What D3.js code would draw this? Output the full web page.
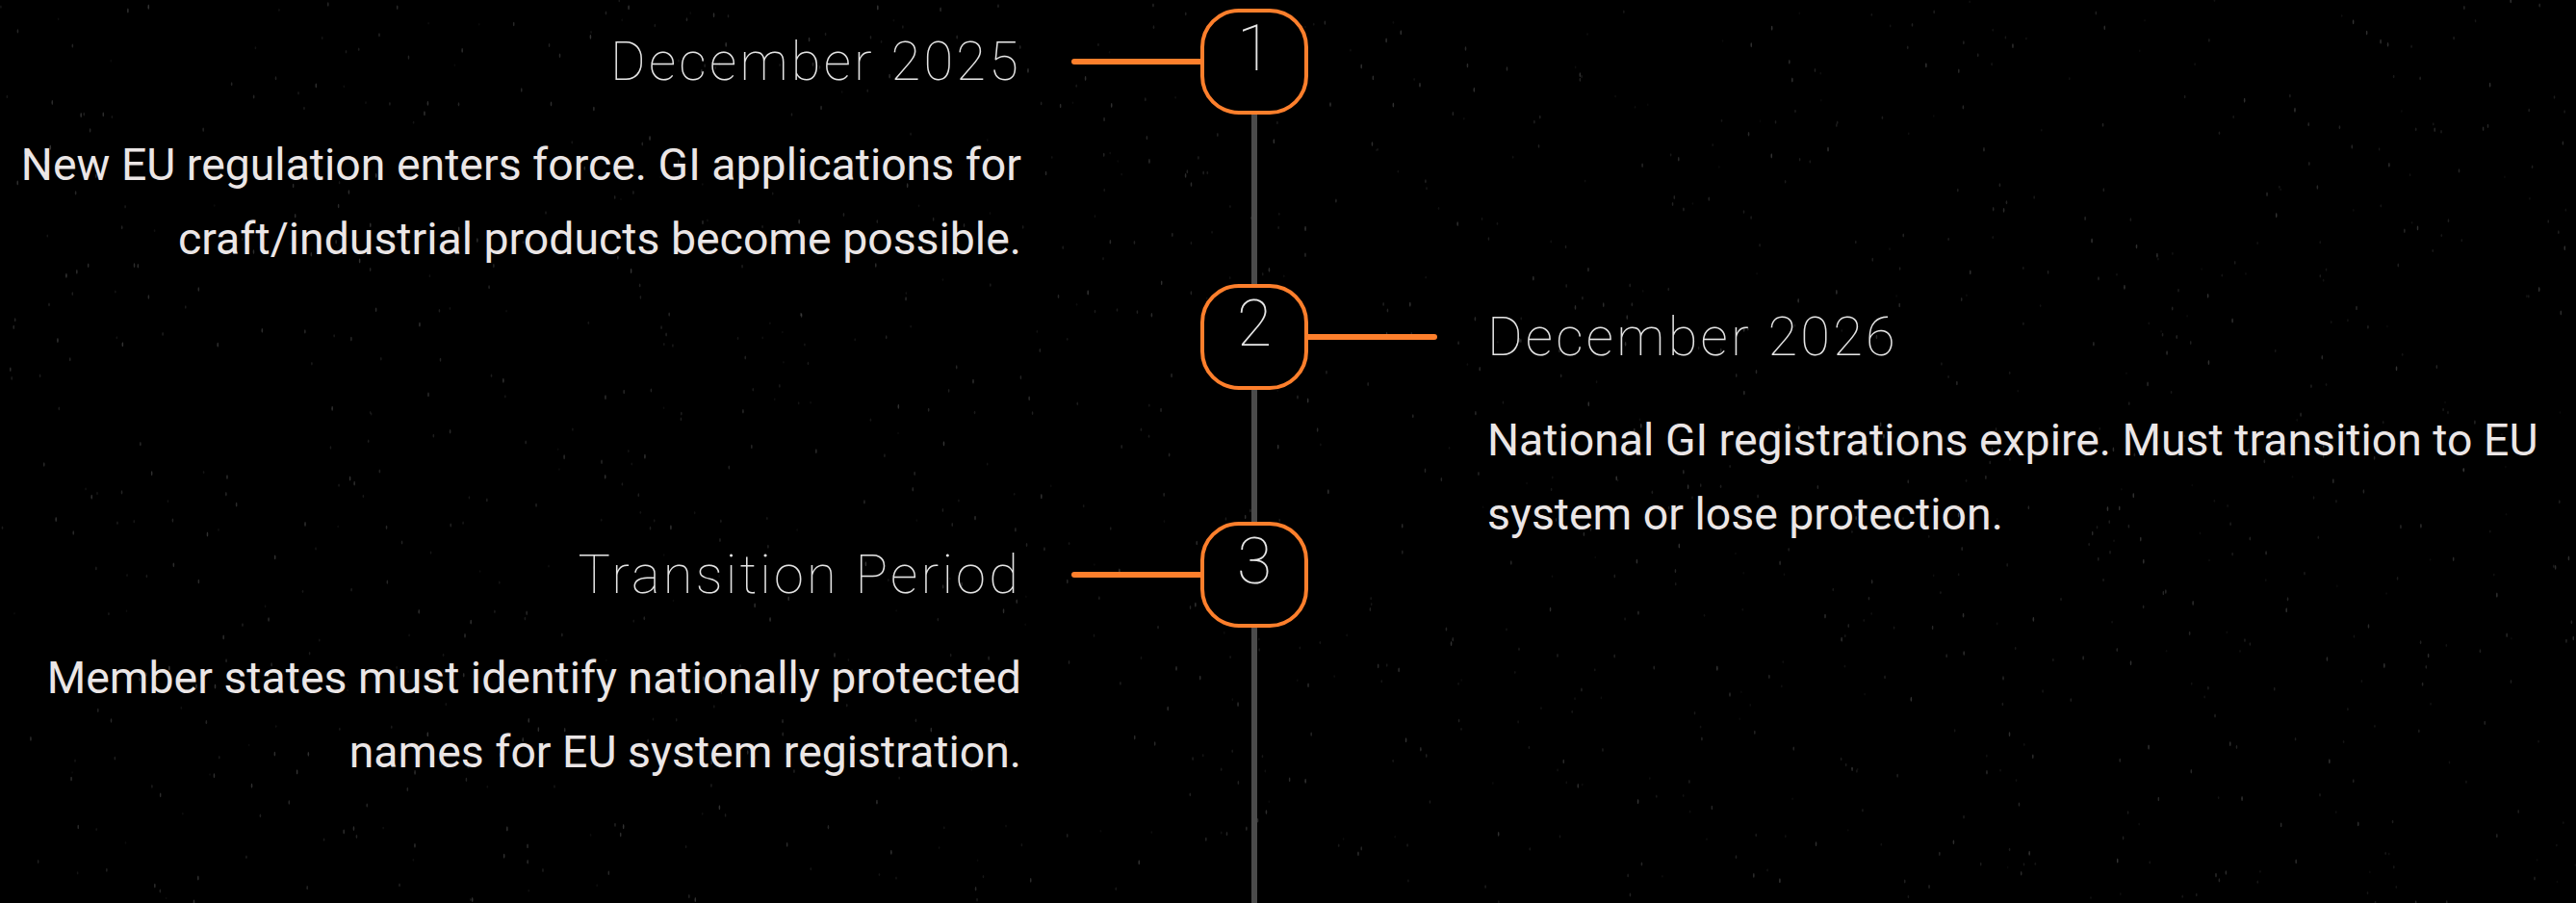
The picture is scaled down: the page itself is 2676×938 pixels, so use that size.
<!DOCTYPE html>
<html lang="en">
<head>
    <meta charset="UTF-8">
    <title>GI Timeline</title>
    <script src="https://d3js.org/d3.v7.min.js"></script>
    <style>
        html, body { margin: 0; padding: 0; background: #000; overflow: hidden; }
    </style>
</head>
<body>
    <svg id="chart" width="2676" height="938"></svg>

    <script>
        // timeline data
        const steps = [1, 2, 3];
        const titles = ['December 2025', 'December 2026', 'Transition Period'];
        const sides = ['left', 'right', 'left'];
        const descriptions = [
            ['New EU regulation enters force. GI applications for', 'craft/industrial products become possible.'],
            ['National GI registrations expire. Must transition to EU', 'system or lose protection.'],
            ['Member states must identify nationally protected', 'names for EU system registration.']
        ];

        const width = 2676, height = 938;
        const axisX = 1303;
        const boxW = 108, boxH = 106;
        const connector = 133;   // length of the orange stub
        const textGap = 55;      // stub end -> text
        const lineH = 77;

        // row layout (first row centre, then gaps between rows)
        const rowCentres = d3.cumsum([64, 286, 247]);
        const y = d3.scaleOrdinal().domain(steps).range(rowCentres);

        const items = steps.map((s, i) => ({
            step: s, title: titles[i], side: sides[i], lines: descriptions[i]
        }));

        const svg = d3.select('#chart');

        svg.append('rect')
            .attr('width', width)
            .attr('height', height)
            .attr('fill', '#000');

        // faint speckle texture on the backdrop (seeded, purely decorative)
        const rnd = d3.randomLcg(7);
        const specks = d3.range(1400).map(() => [rnd() * width, rnd() * height, rnd()]);
        svg.append('g')
            .selectAll('ellipse')
            .data(specks)
            .join('ellipse')
            .attr('cx', d => d[0])
            .attr('cy', d => d[1])
            .attr('rx', 0.8)
            .attr('ry', d => 1.2 + d[2] * 1.4)
            .attr('fill', '#fff')
            .attr('fill-opacity', d => 0.04 + d[2] * 0.16);

        // spine
        svg.append('line')
            .attr('x1', axisX).attr('x2', axisX)
            .attr('y1', y(steps[0]))
            .attr('y2', height)
            .attr('stroke', '#4b4b4b')
            .attr('stroke-width', 6);

        const item = svg.selectAll('g.item')
            .data(items)
            .join('g')
            .attr('class', 'item')
            .attr('transform', d => `translate(0,${y(d.step)})`);

        const dir = d => d.side === 'left' ? -1 : 1;

        item.append('line')
            .attr('x1', d => axisX + dir(d) * (boxW / 2 + 2))
            .attr('x2', d => axisX + dir(d) * (boxW / 2 + connector))
            .attr('y1', 0).attr('y2', 0)
            .attr('stroke', '#fd7f2c')
            .attr('stroke-width', 6)
            .attr('stroke-linecap', 'round');

        item.append('rect')
            .attr('x', axisX - boxW / 2)
            .attr('y', -boxH / 2)
            .attr('width', boxW)
            .attr('height', boxH)
            .attr('rx', 38)
            .attr('fill', '#000')
            .attr('stroke', '#fd7f2c')
            .attr('stroke-width', 4);

        item.append('text')
            .attr('x', axisX)
            .attr('y', 9)
            .attr('text-anchor', 'middle')
            .attr('font-family', 'Roboto, sans-serif')
            .attr('font-weight', 100)
            .attr('font-size', 66)
            .attr('fill', '#e6e6e6')
            .text(d => d.step);

        const textX = d => axisX + dir(d) * (boxW / 2 + connector + textGap);
        const anchor = d => d.side === 'left' ? 'end' : 'start';

        item.append('text')
            .attr('x', textX)
            .attr('y', 19)
            .attr('text-anchor', anchor)
            .attr('font-family', 'Roboto, sans-serif')
            .attr('font-weight', 100)
            .attr('font-size', 56)
            .attr('letter-spacing', 3.2)
            .attr('fill', '#e4e4e4')
            .text(d => d.title);

        item.append('text')
            .attr('text-anchor', anchor)
            .attr('font-family', 'Roboto, sans-serif')
            .attr('font-size', 46.4)
            .attr('fill', '#ebe6e6')
            .selectAll('tspan')
            .data(d => d.lines.map((l, i) => ({ l, i, d })))
            .join('tspan')
            .attr('x', o => textX(o.d))
            .attr('y', o => 123 + o.i * lineH)
            .text(o => o.l);
    </script>
</body>
</html>
